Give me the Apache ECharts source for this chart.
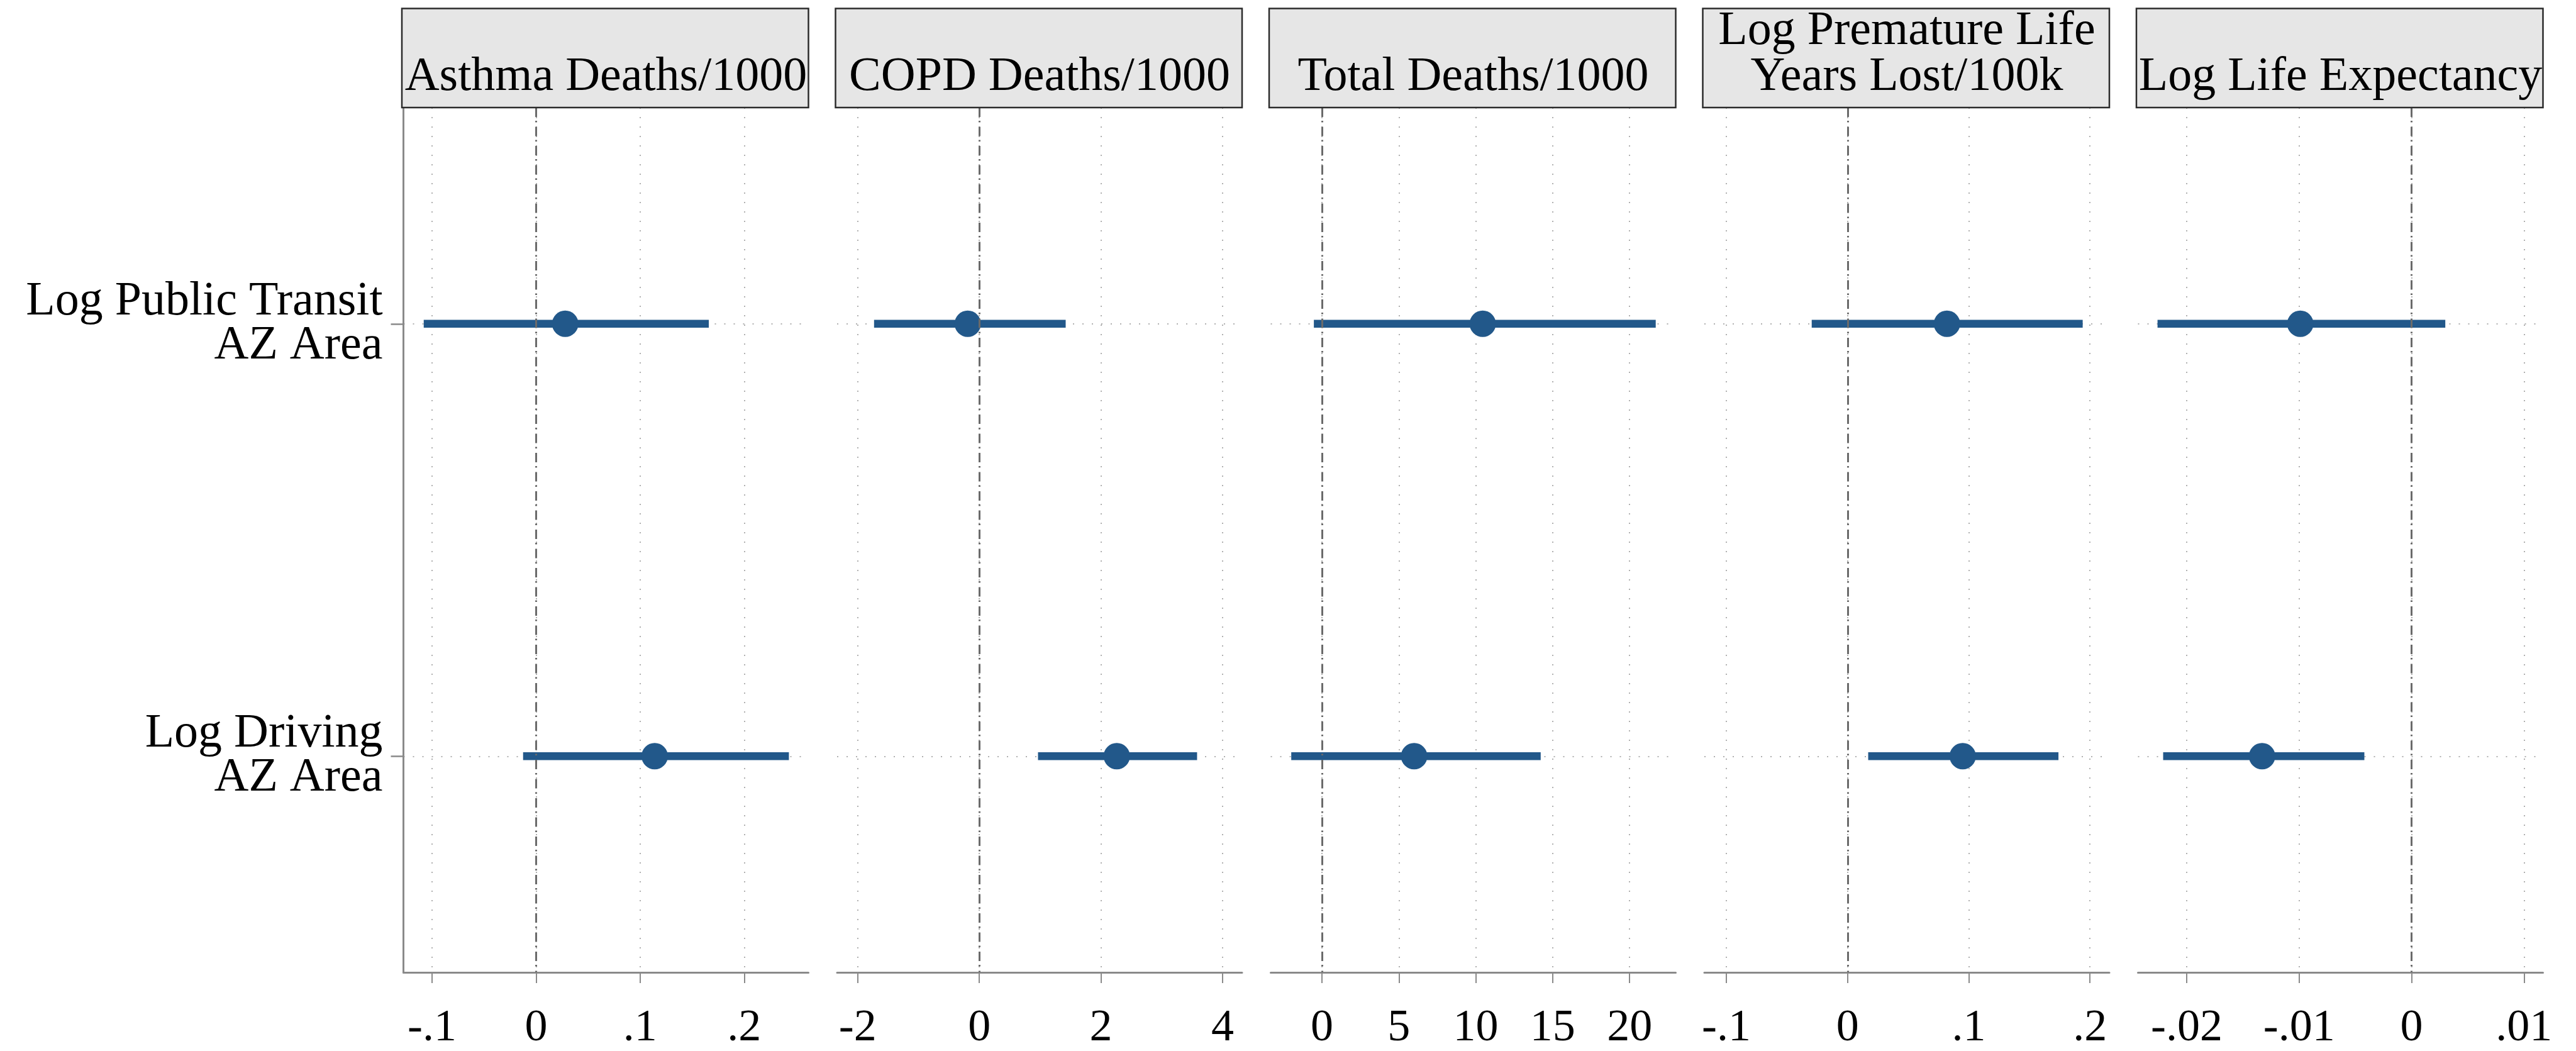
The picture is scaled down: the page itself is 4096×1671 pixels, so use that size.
<!DOCTYPE html>
<html>
<head>
<meta charset="utf-8">
<script src="https://cdn.jsdelivr.net/npm/echarts@6/dist/echarts.min.js"></script>
<style>
  html, body { margin: 0; padding: 0; background: #fff; }
  #chart { width: 4096px; height: 1671px; }
</style>
</head>
<body>
<div id="chart"></div>
<script>
// Coefficient plot: two exposures (rows) against five health outcomes (panels)
const rowLabels = ['Log Public Transit\nAZ Area', 'Log Driving\nAZ Area'];
const outcomes = [
  'Asthma Deaths/1000',
  'COPD Deaths/1000',
  'Total Deaths/1000',
  'Log Premature Life\nYears Lost/100k',
  'Log Life Expectancy'
];

// Point estimates and confidence bounds, one value per outcome panel
const transitEst  = [0.028, -0.19, 10.45, 0.082, -0.0099];
const transitLow  = [-0.108, -1.73, -0.53, -0.0296, -0.0226];
const transitHigh = [0.166, 1.42, 21.7, 0.194, 0.0030];

const drivingEst  = [0.114, 2.26, 5.99, 0.095, -0.0133];
const drivingLow  = [-0.0125, 0.965, -2.0, 0.017, -0.0221];
const drivingHigh = [0.243, 3.58, 14.22, 0.174, -0.0042];

// Tick values and axis extents per panel
const tickValues = [
  [-0.1, 0, 0.1, 0.2],
  [-2, 0, 2, 4],
  [0, 5, 10, 15, 20],
  [-0.1, 0, 0.1, 0.2],
  [-0.02, -0.01, 0, 0.01]
];
const axisMin = [-0.1275, -2.338, -3.336, -0.1182, -0.02434];
const axisMax = [0.2618, 4.32, 23.0, 0.216, 0.01169];

const FONT = 'Liberation Serif';
const BLUE = '#22588a';
const AXIS_GREY = '#8a8a8a';
const GRID_GREY = '#b0b0b0';

// Panel geometry
const plotTop = 171, plotHeight = 1380;
const firstLeft = 641.5, panelStep = 689.5, panelWidth = 644;
const headerTop = 13.5, headerHeight = plotTop - 13.5;

// Stata-style numbers: drop the leading zero (".1", "-.02")
function tickText(v) {
  return String(v).replace(/^(-?)0\./, '$1.');
}

const grids = [], xAxes = [], yAxes = [], series = [], graphics = [];

outcomes.forEach((title, i) => {
  const left = firstLeft + i * panelStep;
  grids.push({ left: left, top: plotTop, width: panelWidth, height: plotHeight, containLabel: false });

  xAxes.push({
    type: 'value', gridIndex: i, min: axisMin[i], max: axisMax[i], position: 'bottom',
    axisLine: { show: true, onZero: false, lineStyle: { color: AXIS_GREY, width: 3 } },
    axisTick: { show: true, length: 17, customValues: tickValues[i], lineStyle: { color: AXIS_GREY, width: 2 } },
    axisLabel: {
      customValues: tickValues[i], formatter: tickText, fontFamily: FONT, fontSize: 72,
      color: '#000', margin: 53, verticalAlign: 'top'
    },
    splitLine: { show: true, lineStyle: { color: GRID_GREY, width: 2, type: [2, 13] } }
  });

  yAxes.push({
    type: 'value', gridIndex: i, min: 0.5, max: 2.5, inverse: true,
    axisLine: { show: i === 0, onZero: false, lineStyle: { color: AXIS_GREY, width: 3 } },
    axisTick: { show: i === 0, length: 20, customValues: [1, 2], lineStyle: { color: AXIS_GREY, width: 2.5 } },
    axisLabel: {
      show: i === 0, customValues: [1, 2], formatter: v => rowLabels[Math.round(v) - 1],
      fontFamily: FONT, fontSize: 76, lineHeight: 70, color: '#000', align: 'right',
      margin: 33, padding: [0, 0, 16, 0]
    },
    splitLine: { show: true, lineStyle: { color: GRID_GREY, width: 2, type: [2, 13] } }
  });

  // dash-dot reference line at zero
  series.push({
    type: 'line', xAxisIndex: i, yAxisIndex: i, data: [], z: 1,
    markLine: {
      silent: true, symbol: 'none', label: { show: false },
      lineStyle: { color: '#6a6a6a', width: 3, type: [15, 6, 2.5, 7] },
      data: [{ xAxis: 0 }]
    }
  });

  // confidence interval bars
  series.push({
    type: 'custom', xAxisIndex: i, yAxisIndex: i, z: 2,
    encode: { x: [0, 1], y: 2 },
    data: [
      [transitLow[i], transitHigh[i], 1],
      [drivingLow[i], drivingHigh[i], 2]
    ],
    renderItem: (params, api) => {
      const a = api.coord([api.value(0), api.value(2)]);
      const b = api.coord([api.value(1), api.value(2)]);
      return {
        type: 'line',
        shape: { x1: a[0], y1: a[1], x2: b[0], y2: b[1] },
        style: { stroke: BLUE, lineWidth: 12.5 }
      };
    }
  });

  // point estimates
  series.push({
    type: 'scatter', xAxisIndex: i, yAxisIndex: i, z: 3,
    symbol: 'circle', symbolSize: 42, itemStyle: { color: BLUE, opacity: 1 },
    data: [[transitEst[i], 1], [drivingEst[i], 2]]
  });

  // panel header strip
  graphics.push({
    type: 'rect', z: 10,
    shape: { x: left - 2.5, y: headerTop, width: panelWidth + 2.5, height: headerHeight },
    style: { fill: '#e6e6e6', stroke: '#2b2b2b', lineWidth: 2.5 }
  });
  graphics.push({
    type: 'text', z: 11,
    x: left + panelWidth / 2, y: plotTop - 11.6,
    style: {
      text: title, font: '76px "Liberation Serif"', fill: '#000',
      align: 'center', verticalAlign: 'bottom', lineHeight: 73
    }
  });
});

const chart = echarts.init(document.getElementById('chart'), null, { renderer: 'canvas' });
chart.setOption({
  backgroundColor: '#ffffff',
  animation: false,
  grid: grids,
  xAxis: xAxes,
  yAxis: yAxes,
  series: series,
  graphic: graphics
});
</script>
</body>
</html>
